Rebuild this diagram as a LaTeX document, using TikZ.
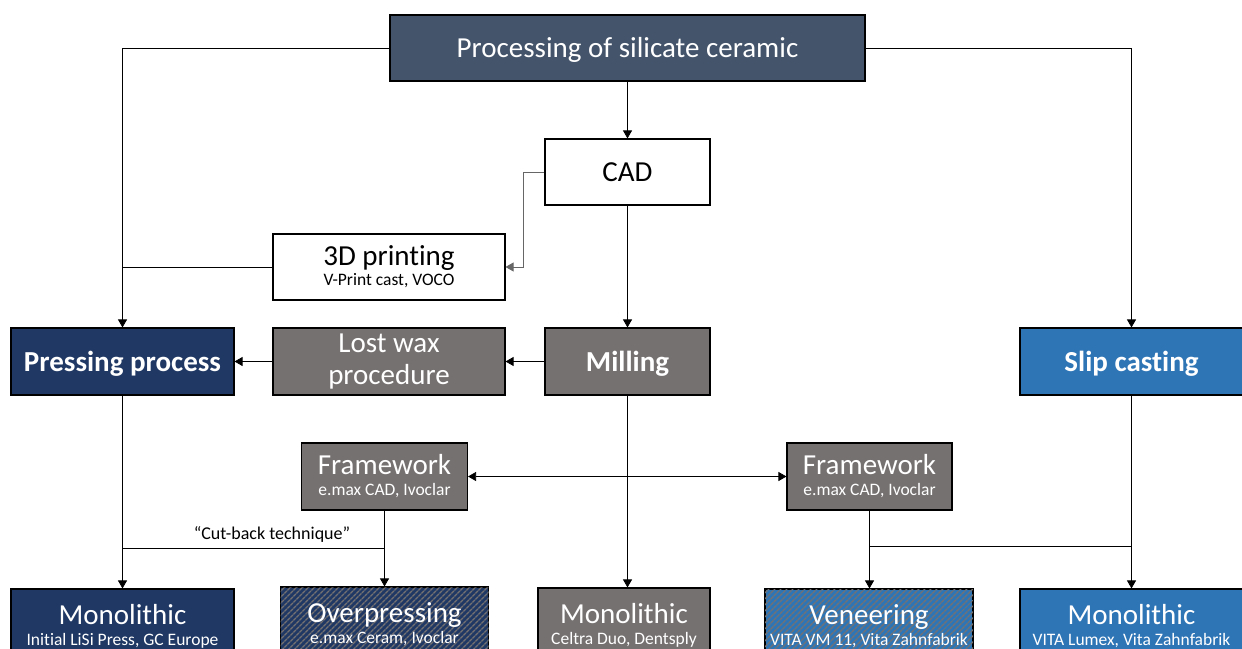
\documentclass[tikz,border=0pt]{standalone}
\usepackage{fontspec}
\setmainfont[Ligatures=NoCommon]{Carlito}
\usetikzlibrary{arrows.meta,patterns.meta}
\definecolor{topc}{HTML}{44546A}
\definecolor{navy}{HTML}{1F3864}
\definecolor{greyc}{HTML}{767171}
\definecolor{bluec}{HTML}{2E75B6}
\newcommand{\smallt}[1]{{\fontsize{17.5}{21}\selectfont #1}}
\tikzset{
  box/.style={draw=black, line width=1.1pt, inner sep=0pt, align=center, text=white, font=\fontsize{29}{35}\selectfont},
  single/.style={text height=21pt, text depth=2pt},
  whitebox/.style={box, fill=white, text=black},
  topbox/.style={box, fill=topc},
  navybox/.style={box, fill=navy},
  greybox/.style={box, fill=greyc},
  bluebox/.style={box, fill=bluec},
  navystripe/.style={box, fill=navy, postaction={pattern={Lines[angle=45,distance=4pt,line width=1.4pt]}, pattern color=greyc}},
  bluestripe/.style={box, fill=bluec, postaction={pattern={Lines[angle=45,distance=4pt,line width=1.4pt]}, pattern color=greyc}},
  conn/.style={draw=black, line width=0.8pt},
  arr/.style={conn, -{Triangle[length=8pt,width=9pt]}},
  darr/.style={conn, {Triangle[length=8pt,width=9pt]}-{Triangle[length=8pt,width=9pt]}},
}
\begin{document}
\begin{tikzpicture}[x=1pt,y=-1pt]
\useasboundingbox (0,0) rectangle (1242,648);
\clip (0,0) rectangle (1242,648);
% nodes
\node[topbox, single, minimum width=475pt, minimum height=66pt] (top) at (627.5,48) {Processing of silicate ceramic};
\node[whitebox, single, minimum width=165pt, minimum height=66pt] (cad) at (627.5,172) {CAD};
\node[whitebox, minimum width=232pt, minimum height=66pt] (print) at (389,267) {\raisebox{-1pt}{3D printing}\\[-14pt]\smallt{V-Print cast, VOCO}};
\node[navybox, single, minimum width=223pt, minimum height=67pt] (press) at (122.5,361.5) {\bfseries Pressing process};
\node[greybox, minimum width=232pt, minimum height=67pt] (wax) at (389,361.5) {Lost wax\\[-3pt]procedure};
\node[greybox, single, minimum width=165pt, minimum height=67pt] (mill) at (627.5,361.5) {\bfseries Milling};
\node[bluebox, single, minimum width=223pt, minimum height=67pt] (slip) at (1131.5,361.5) {\bfseries Slip casting};
\node[greybox, minimum width=166pt, minimum height=67pt] (fwL) at (384.5,476.5) {Framework\\[-14pt]\smallt{e.max CAD, Ivoclar}};
\node[greybox, minimum width=165pt, minimum height=67pt] (fwR) at (869.5,476.5) {Framework\\[-14pt]\smallt{e.max CAD, Ivoclar}};
\node[navybox, minimum width=223pt, minimum height=74pt] (monoL) at (122.5,626) {Monolithic\\[-14pt]\smallt{Initial LiSi Press, GC Europe}};
\node[navystripe, minimum width=208pt, minimum height=74pt] (over) at (384.5,624) {Overpressing\\[-14pt]\smallt{e.max Ceram, Ivoclar}};
\node[greybox, minimum width=172pt, minimum height=74pt] (monoM) at (624,625) {Monolithic\\[-14pt]\smallt{Celtra Duo, Dentsply}};
\node[bluestripe, minimum width=208pt, minimum height=74pt] (veneer) at (869,626) {Veneering\\[-14pt]\smallt{VITA VM 11, Vita Zahnfabrik}};
\node[bluebox, minimum width=223pt, minimum height=74pt] (monoR) at (1131.5,626) {Monolithic\\[-14pt]\smallt{VITA Lumex, Vita Zahnfabrik}};
% connectors
\draw[arr] (top.west) -| (press.north);
\draw[arr] (top.east) -| (slip.north);
\draw[arr] (top.south) -- (cad.north);
\draw[arr, draw=black!60] (cad.west) -- ++(-21,0) |- (print.east);
\draw[conn] (print.west) -- (print.west -| press.north);
\draw[arr] (cad.south) -- (mill.north);
\draw[arr] (mill.west) -- (wax.east);
\draw[arr] (wax.west) -- (press.east);
\draw[arr] (press.south) -- (monoL.north);
\coordinate (cbL) at (122.5,548);
\draw[conn] (cbL) -- (cbL -| fwL.south);
\node[font=\fontsize{18}{21}\selectfont, anchor=south, inner sep=2pt] (cbtext) at (272,545) {“Cut-back technique”};
\draw[arr] (fwL.south) -- (over.north);
\draw[darr] (fwL.east) -- (fwR.west);
\draw[arr] (mill.south) -- (mill.south |- monoM.north);
\draw[arr] (fwR.south) -- (fwR.south |- veneer.north);
\coordinate (vj) at (869.5,546);
\draw[conn] (vj) -- (vj -| slip.south);
\draw[arr] (slip.south) -- (monoR.north);
\end{tikzpicture}
\end{document}
